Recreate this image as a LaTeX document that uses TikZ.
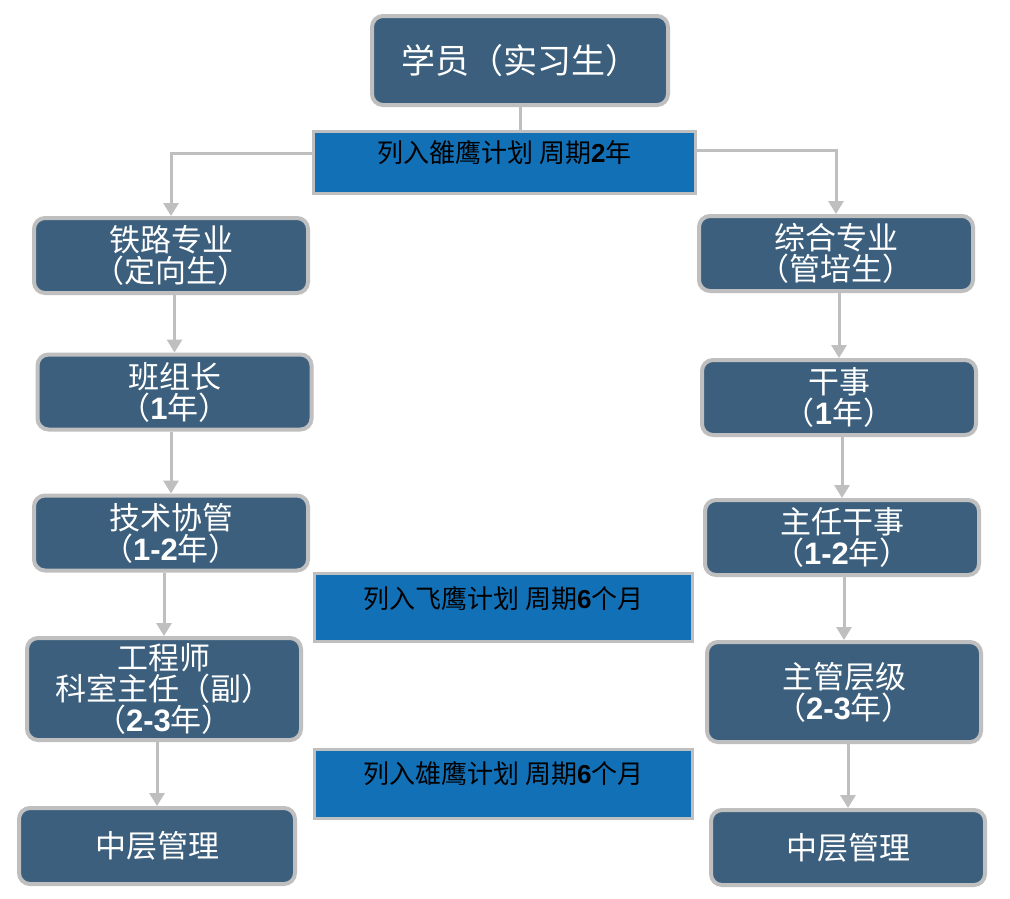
\documentclass[tikz,border=0pt]{standalone}
\usepackage{fontspec}
\newfontfamily\cjk{Noto Sans CJK SC}
\newfontfamily\digf{Liberation Sans}
\newcommand{\dg}[1]{{\digf\bfseries #1}}
\usetikzlibrary{arrows.meta}
\definecolor{boxfill}{HTML}{3B5F7D}
\definecolor{boxline}{HTML}{BFBFBF}
\definecolor{banfill}{HTML}{1270B7}
\tikzset{
  stage/.style={draw=boxline, line width=4pt, fill=boxfill, rounded corners=11pt,
    text=white, align=center, inner sep=0pt, minimum width=274pt, minimum height=75pt,
    font=\cjk\fontsize{31}{31}\selectfont},
  banner/.style={draw=boxline, line width=3pt, fill=banfill, inner sep=0pt,
    minimum width=378pt},
  bantext/.style={text=black, inner sep=0pt, font=\cjk\fontsize{26}{28}\selectfont},
  conn/.style={draw=boxline, line width=3pt,
    -{Triangle[width=15pt,length=13pt]}},
  plain/.style={draw=boxline, line width=3pt}
}
\begin{document}
\begin{tikzpicture}[x=1pt,y=-1pt]
\useasboundingbox[fill=white] (0,0) rectangle (1010,898);
% banners
\node[banner, minimum width=382pt, minimum height=62pt] (B1) at (504.5,162.5) {};
\node[bantext] (B1t) at ([yshift=-23pt]B1.north) {列入雒鹰计划 周期\dg{2}年};
\node[banner, minimum height=68pt] (B2) at (503.5,607.5) {};
\node[bantext] (B2t) at ([yshift=-27pt]B2.north) {列入飞鹰计划 周期\dg{6}个月};
\node[banner, minimum height=69pt] (B3) at (503.5,784) {};
\node[bantext] (B3t) at ([yshift=-26pt]B3.north) {列入雄鹰计划 周期\dg{6}个月};
% top
\node[stage, minimum width=296pt, minimum height=89pt, font=\cjk\fontsize{34}{36}\selectfont] (T) at (520,60.5) {学员（实习生）};
% left column
\node[stage] (L1) at (171,255.5) {铁路专业\\（定向生）};
\node[stage] (L2) at (174.5,392) {班组长\\（\dg{1}年）};
\node[stage] (L3) at (171,533) {技术协管\\（\dg{1-2}年）};
\node[stage, minimum height=102pt] (L4) at (164,689) {工程师\\科室主任（副）\\（\dg{2-3}年）};
\node[stage, minimum width=276pt, minimum height=76pt] (L5) at (157,846) {中层管理};
% right column
\node[stage] (R1) at (836,253.5) {综合专业\\（管培生）};
\node[stage] (R2) at (839,397.5) {干事\\（\dg{1}年）};
\node[stage] (R3) at (842,537.5) {主任干事\\（\dg{1-2}年）};
\node[stage, minimum height=100pt] (R4) at (844,692) {主管层级\\（\dg{2-3}年）};
\node[stage, minimum height=75pt] (R5) at (848,847.5) {中层管理};
% connectors
\draw[plain] (T.south) -- (T.south |- B1.north);
\draw[conn] ([yshift=9pt]B1.west) -| (L1.north);
\draw[conn] ([yshift=12pt]B1.east) -| (R1.north);
\draw[conn] (L2.north |- L1.south) -- (L2.north);
\draw[conn] (L3.north |- L2.south) -- (L3.north);
\draw[conn] (L4.north |- L3.south) -- (L4.north);
\draw[conn] (L5.north |- L4.south) -- (L5.north);
\draw[conn] (R2.north |- R1.south) -- (R2.north);
\draw[conn] (R3.north |- R2.south) -- (R3.north);
\draw[conn] (R4.north |- R3.south) -- (R4.north);
\draw[conn] (R5.north |- R4.south) -- (R5.north);
\end{tikzpicture}
\end{document}
